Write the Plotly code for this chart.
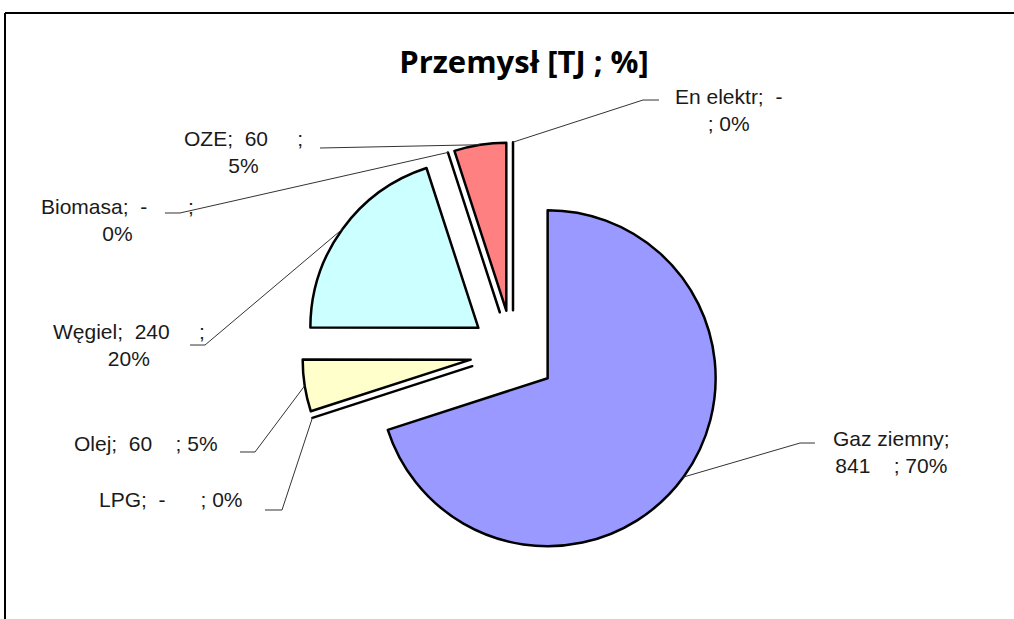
import math
import plotly.graph_objects as go

# dane
labels = ["Gaz ziemny", "LPG", "Olej", "Węgiel", "Biomasa", "OZE", "En elektr"]
values = [841, 0, 60, 240, 0, 60, 0]
colors = ["#9999FF", "#993366", "#FFFFCC", "#CCFFFF", "#660066", "#FF8080", "#0066CC"]
label_texts = [
    "Gaz ziemny;<br>841\u00a0\u00a0\u00a0\u00a0; 70%",
    "LPG;\u00a0\u00a0-\u00a0\u00a0\u00a0\u00a0\u00a0\u00a0; 0%",
    "Olej;\u00a0\u00a060\u00a0\u00a0\u00a0\u00a0; 5%",
    "Węgiel;\u00a0\u00a0240\u00a0\u00a0\u00a0\u00a0\u00a0;<br>20%",
    "Biomasa;\u00a0\u00a0-\u00a0\u00a0\u00a0\u00a0\u00a0\u00a0\u00a0;<br>0%",
    "OZE;\u00a0\u00a060\u00a0\u00a0\u00a0\u00a0\u00a0;<br>5%",
    "En elektr;\u00a0\u00a0-<br>; 0%",
]

W, H = 1014, 619
cx, cy, R, pull = 513, 353, 168, 0.255

# pozycje etykiet (px) i końcówki linii odniesienia
label_pos = [(891, 452), (171, 500), (146, 443), (129, 345), (117, 220), (243, 152), (728, 110)]
leader_pts = [
    [(800, 443), (815, 443)],
    [(282, 510), (265, 510)],
    [(255, 452), (240, 452)],
    [(205, 345), (190, 345)],
    [(180, 213), (165, 213)],
    [(320, 148), (320, 148)],
    [(643, 100), (659, 100)],
]


def px(x, y):
    return x / W, 1 - y / H


half = R * (1 + pull)
fig = go.Figure(go.Pie(
    labels=labels, values=values, sort=False, direction="clockwise", rotation=0,
    pull=[pull] * len(values), textinfo="none", hoverinfo="label+value+percent",
    marker=dict(colors=colors, line=dict(color="black", width=2.5)),
    domain=dict(x=[(cx - half) / W, (cx + half) / W], y=[1 - (cy + half) / H, 1 - (cy - half) / H]),
    showlegend=False,
))

total = sum(values)
shapes = []
annotations = []
cum = 0
for i, v in enumerate(values):
    theta = (cum + v / 2) / total * 2 * math.pi
    cum += v
    tx = cx + half * math.sin(theta)
    ty = cy - half * math.cos(theta)
    pts = [(tx, ty)] + leader_pts[i]
    path = "M " + " L ".join("%.4f,%.4f" % px(x, y) for x, y in pts)
    shapes.append(dict(type="path", path=path, xref="paper", yref="paper",
                       line=dict(color="#333333", width=1)))
    lx, ly = px(*label_pos[i])
    annotations.append(dict(x=lx, y=ly, xref="paper", yref="paper", text=label_texts[i],
                            showarrow=False, align="center", xanchor="center", yanchor="middle",
                            font=dict(family="Liberation Sans, Arial", size=21, color="#1a1a1a")))

# ramka wykresu
shapes.append(dict(type="line", xref="paper", yref="paper", x0=5 / W, x1=1.01, y0=1 - 13 / H, y1=1 - 13 / H,
                   line=dict(color="black", width=2)))
shapes.append(dict(type="line", xref="paper", yref="paper", x0=5 / W, x1=5 / W, y0=1 - 13 / H, y1=-0.02,
                   line=dict(color="black", width=2)))

fig.update_layout(
    width=W, height=H,
    margin=dict(l=0, r=0, t=0, b=0),
    paper_bgcolor="white", plot_bgcolor="white",
    title=dict(text="<b>Przemysł [TJ ; %]</b>", x=524 / W, y=1 - 62 / H, xanchor="center", yanchor="middle",
               font=dict(family="Open Sans, Lato", size=31, color="black")),
    shapes=shapes, annotations=annotations,
)

fig.write_html("out.html", config={"displayModeBar": False},
               post_script="document.body.style.margin='0';document.body.style.overflow='hidden';")
